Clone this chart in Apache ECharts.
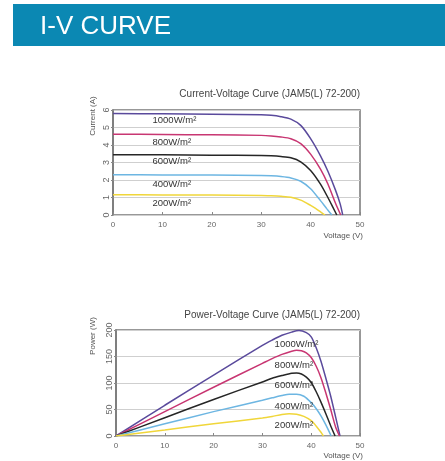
<!DOCTYPE html>
<html><head><meta charset="utf-8">
<script src="https://cdn.jsdelivr.net/npm/echarts@6/dist/echarts.min.js"></script>
<style>html,body{margin:0;padding:0;background:#fff}#c{width:445px;height:461px}</style>
</head><body><div id="c"></div>
<script>
// ---- data ----
const irradianceLabels = ['1000W/m²','800W/m²','600W/m²','400W/m²','200W/m²'];
const colors = ['#5a4a9c','#c83672','#262626','#6db6e2','#f0d63a'];
const xTicks = [0,10,20,30,40,50];
const ivTicks = [0,1,2,3,4,5,6];
const pvTicks = [0,50,100,150,200];

// I-V curves (Voltage V, Current A)
const iv1000V = [0,10,20,30,32,34,36,38,40,42,43.5,45,46,46.5];
const iv1000I = [5.80,5.78,5.76,5.73,5.70,5.62,5.48,5.12,4.36,3.38,2.50,1.45,0.62,0];
const iv800V  = [0,10,20,30,32,34,36,38,40,42,43.5,45,46.1];
const iv800I  = [4.62,4.60,4.58,4.55,4.52,4.46,4.36,4.08,3.48,2.62,1.77,0.70,0];
const iv600V  = [0,10,20,30,32,34,36,38,40,42,43.5,44.5,45.3];
const iv600I  = [3.45,3.44,3.42,3.40,3.38,3.34,3.27,3.04,2.54,1.76,1.0,0.45,0];
const iv400V  = [0,10,20,30,32,34,36,38,40,42,43.3,44.3];
const iv400I  = [2.30,2.29,2.28,2.26,2.24,2.20,2.12,1.93,1.50,0.82,0.35,0];
const iv200V  = [0,10,20,30,32,34,36,38,40,41,42,42.9];
const iv200I  = [1.16,1.15,1.14,1.12,1.10,1.07,1.02,0.85,0.55,0.38,0.18,0];

// P-V curves (Voltage V, Power W)
const pv1000V = [0,10,20,30,32,34,36,37.5,39,40,41,42,43,44,45,45.9];
const pv1000P = [0,58,115,171,181,190,196,199,195,187,167,141,109,75,36,0];
const pv800V  = [0,10,20,30,32,34,36,37,38,39,40,41,42,43,44,45,45.8];
const pv800P  = [0,46,92,137,146,154,160,162,161,157,148,132,110,81,50,17,0];
const pv600V  = [0,10,20,30,32,34,36,37,38,39,40,41,42,43,44,44.9];
const pv600P  = [0,34.5,69,102,109,114,118.5,119,117,111,101,84,64,42,19,0];
const pv400V  = [0,10,20,30,32,34,35.5,37,38.5,40,41,42,43,44.1];
const pv400P  = [0,23,46,67.5,72,76.5,79,79,75,63,52,38,21,0];
const pv200V  = [0,10,20,30,32,34,35.5,37,38.5,40,41,42,42.5];
const pv200P  = [0,11.5,23,34,37,40.5,42,41,37,29,19,7,0];

// label anchor positions (data coords)
const ivLabelV = [8,8,8,8,8];
const ivLabelI = [5.39,4.15,3.05,1.77,0.67];
const pvLabelV = [32.5,32.5,32.5,32.5,32.5];
const pvLabelP = [173,133,95,56,20];

const ivSets = [[iv1000V,iv1000I],[iv800V,iv800I],[iv600V,iv600I],[iv400V,iv400I],[iv200V,iv200I]];
const pvSets = [[pv1000V,pv1000P],[pv800V,pv800P],[pv600V,pv600P],[pv400V,pv400P],[pv200V,pv200P]];

const pairs = (xs, ys) => xs.map((x,i)=>[x, ys[i]]);
const FONT = 'Liberation Sans, Arial, sans-serif';

function xAxisCfg(gi){
  return {type:'value', gridIndex:gi, min:0, max:50, interval:10,
    axisLine:{show:false}, axisTick:{show:true, inside:true, length:3, lineStyle:{color:'#888'}},
    splitLine:{show:false},
    axisLabel:{color:'#666', fontSize:8, fontFamily:FONT, margin:6}};
}
function yAxisCfg(gi, max, interval){
  return {type:'value', gridIndex:gi, min:0, max:max, interval:interval,
    axisLine:{show:true, lineStyle:{color:'#777', width:1.5}}, axisTick:{show:true, length:2, lineStyle:{color:'#888'}},
    splitLine:{show:true, lineStyle:{color:'#cfcfcf', width:1.2}},
    axisLabel:{color:'#666', fontSize:9, fontFamily:FONT, rotate:90, margin:2}};
}

const series = [];
ivSets.forEach((s,k)=>{
  series.push({type:'line', xAxisIndex:0, yAxisIndex:0, data:pairs(s[0],s[1]), smooth:0.25,
    showSymbol:false, lineStyle:{color:colors[k], width:1.5}, z:3,
    markPoint:{symbol:'circle', symbolSize:0, silent:true,
      data:[{coord:[ivLabelV[k], ivLabelI[k]], label:{show:true, position:'right', distance:0,
        formatter:irradianceLabels[k], color:'#333', fontSize:9.5, fontFamily:FONT}}]}});
});
pvSets.forEach((s,k)=>{
  series.push({type:'line', xAxisIndex:1, yAxisIndex:1, data:pairs(s[0],s[1]), smooth:0.25,
    showSymbol:false, lineStyle:{color:colors[k], width:1.5}, z:3,
    markPoint:{symbol:'circle', symbolSize:0, silent:true,
      data:[{coord:[pvLabelV[k], pvLabelP[k]], label:{show:true, position:'right', distance:0,
        formatter:irradianceLabels[k], color:'#333', fontSize:9.5, fontFamily:FONT}}]}});
});

const chart = echarts.init(document.getElementById('c'), null, {renderer:'canvas'});
chart.setOption({
  animation:false,
  backgroundColor:'#fff',
  grid:[
    {left:113, top:110, width:247, height:105, show:true, borderColor:'#777', borderWidth:1.5, backgroundColor:'transparent'},
    {left:116, top:330, width:244, height:106, show:true, borderColor:'#777', borderWidth:1.5, backgroundColor:'transparent'}
  ],
  xAxis:[xAxisCfg(0), xAxisCfg(1)],
  yAxis:[yAxisCfg(0,6,1), yAxisCfg(1,200,50)],
  series: series,
  graphic:[
    {type:'rect', left:13, top:4, shape:{width:432, height:42}, style:{fill:'#0b88b3'}, z:0},
    {type:'text', left:40, top:14, style:{text:'I-V CURVE', fill:'#fff', font:'26px '+FONT}, z:1},
    {type:'text', right:85, top:89, style:{text:'Current-Voltage Curve (JAM5(L) 72-200)', fill:'#444', font:'10px '+FONT}},
    {type:'text', right:85, top:310, style:{text:'Power-Voltage Curve (JAM5(L) 72-200)', fill:'#444', font:'10px '+FONT}},
    {type:'text', x:93, y:116, rotation:Math.PI/2, style:{text:'Current (A)', fill:'#555', font:'8px '+FONT, textAlign:'center', textVerticalAlign:'middle'}},
    {type:'text', x:93, y:336, rotation:Math.PI/2, style:{text:'Power (W)', fill:'#555', font:'8px '+FONT, textAlign:'center', textVerticalAlign:'middle'}},
    {type:'text', right:82, top:232, style:{text:'Voltage (V)', fill:'#555', font:'8px '+FONT}},
    {type:'text', right:82, top:452, style:{text:'Voltage (V)', fill:'#555', font:'8px '+FONT}}
  ]
});
</script></body></html>
